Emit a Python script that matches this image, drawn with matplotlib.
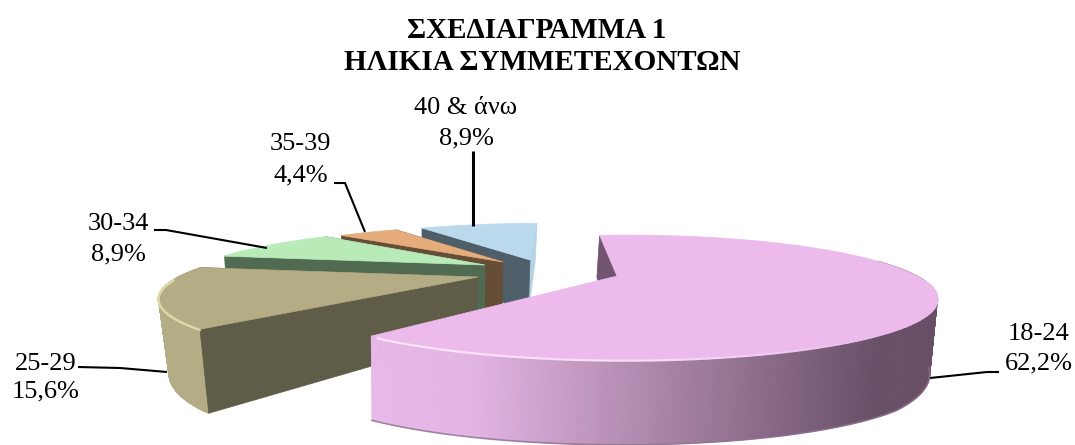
"""Exploded 3D pie, age of participants. Drawn in pixel coords so it can sit on the reference."""
import numpy as np
import matplotlib
matplotlib.use("Agg")
import matplotlib.pyplot as plt
from matplotlib.colors import to_rgb
from matplotlib.patches import Polygon

# data
GROUPS = ["18-24", "25-29", "30-34", "35-39", "40 & άνω"]
SHARES = [62.2, 15.6, 8.9, 4.4, 8.9]
SHARE_TEXT = ["62,2%", "15,6%", "8,9%", "4,4%", "8,9%"]

# look of each slice
TOP = ["#ECBBEC", "#B3AC85", "#B8EBB8", "#E5AD7B", "#BBD9EC"]
SIDE = ["#E8B8E8", "#B3AC85", "#B8EBB8", "#E5AD7B", "#BBD9EC"]
FRONT = ["#E8B8E8", "#5F5C47", "#516B52", "#664D38", "#4F5F69"]
BACK = ["#705470", "#5F5C47", "#516B52", "#664D38", "#B5D3E6"]
APEX = [(617, 276), (478, 277), (485, 265), (503, 262), (530, 260)]
SCALE = [1.0, 1.0, 0.94, 0.9, 0.9]
BIAS = [-0.5, -7.4, -7.4, -6, -5]   # exploded slices look rotated under the perspective
SKEW = [8, 0, 20, 10, 14]
SHRINK = [0.985, 0.96, 0.985, 0.985, 0.985]

# projection of the pie disc
START = 97
R, RS, K = 300, 55, 0.344
XC = 420
WALL_Y = [-1, -0.7, -0.34, 0, 1]
WALL_H = [85, 84, 75, 59, 42]

plt.rcParams['font.family'] = ['Liberation Serif', 'DejaVu Serif']

# label centres and leader lines, pixels
LABEL_XY = [(1039, 334.5, 363.5), (46, 363.5, 391.5), (118, 223.5, 254.5), (300.5, 144.5, 175.5), (466, 108.5, 138.5)]
LEADERS = [
    ([999, 987, 930], [372, 372, 378], 1.5),
    ([78, 120, 167], [367, 368, 372], 1.5),
    ([154, 166, 267], [230, 230, 248], 1.5),
    ([334, 345, 365], [183, 183, 232], 1.5),
    ([473, 473], [151, 226], 2.2),
]


def rim(t, apex, scale, skew):
    x, y = np.cos(t), np.sin(t)
    w = 1 + K * y
    return (apex[0] + scale * R * x / w + skew * y ** 2,
            apex[1] - scale * RS * y / w,
            np.interp(y, WALL_Y, WALL_H) * scale)


def mix(a, b, f):
    a, b = np.array(to_rgb(a)), np.array(to_rgb(b))
    return tuple(a + (b - a) * f)


def draw_slice(ax, i, a0, a1):
    apex, sc = APEX[i], SCALE[i]
    ts = np.radians(np.linspace(a0, a1, 500))   # a0 > a1, clockwise
    px, py, hh = rim(ts, apex, sc, SKEW[i])
    bx, by = XC + (px - XC) * SHRINK[i], py + hh
    ax_b = (XC + (apex[0] - XC) * SHRINK[i], apex[1] + 59 * sc)
    z = 10 + (5 - i if i else 9) * 10

    # radial walls; only for the pink slice the first edge is the far one
    first_wall = [apex, (px[0], py[0]), (bx[0], by[0]), ax_b]
    last_wall = [apex, (px[-1], py[-1]), (bx[-1], by[-1]), ax_b]
    back, front = (first_wall, last_wall) if i == 0 else (last_wall, first_wall)
    ax.add_patch(Polygon(back, fc=BACK[i], ec=BACK[i], lw=0.5, zorder=z))

    # outer wall strips
    for j in range(len(ts) - 1):
        if np.sin(ts[j]) > 0.3:
            continue
        if i == 0:
            f = np.interp(px[j], [375, 470, 880], [0, 0.03, 1])
            col = mix(SIDE[0], "#684F66", f)
        else:
            col = SIDE[i]
        q = [(px[j], py[j]), (px[j + 1], py[j + 1]), (bx[j + 1], by[j + 1]), (bx[j], by[j])]
        ax.add_patch(Polygon(q, fc=col, ec=col, lw=0.6, zorder=z + 1))

    if i != 0:
        ax.add_patch(Polygon(front, fc=FRONT[i], ec=FRONT[i], lw=0.5, zorder=z + 2))

    # top face
    top = [apex] + list(zip(px, py))
    ax.add_patch(Polygon(top, fc=TOP[i], ec=TOP[i], lw=0.5, zorder=z + 3))

    # soft highlight on the rim, only on the front half
    if i < 2:
        lit = np.sin(ts) < -0.05
        for j in range(0, len(ts) - 4, 4):
            if lit[j]:
                if i == 0:
                    f = np.interp(px[j], [375, 650, 880], [0.6, 0.5, 0.0])
                    col = mix(TOP[0], "#FFFFFF", f)
                else:
                    col = "#DDD7AA"
                ax.plot(px[j:j + 5], py[j:j + 5] + 0.8, color=col, lw=1.6, zorder=z + 4, solid_capstyle='round')
    # darker lip under the pink slice
    if i == 0:
        low = np.sin(ts) < -0.3
        ax.plot(bx[low], by[low], color="#8F7290", lw=1.2, zorder=z + 1, alpha=0.8)


def create_chart():
    fig = plt.figure(figsize=(10.75, 4.45), dpi=100)
    ax = fig.add_axes([0, 0, 1, 1])
    ax.set_xlim(0, 1075)
    ax.set_ylim(445, 0)
    ax.axis('off')

    a = START
    for i, share in enumerate(SHARES):
        sweep = share / sum(SHARES) * 360
        draw_slice(ax, i, a + BIAS[i], a + BIAS[i] - sweep)
        a -= sweep

    for xs, ys, lw in LEADERS:
        ax.plot(xs, ys, color='black', lw=lw, zorder=200, solid_capstyle='butt', solid_joinstyle='round')

    for g, s, (x, y1, y2) in zip(GROUPS, SHARE_TEXT, LABEL_XY):
        ax.text(x, y1, g, ha='center', va='center', fontsize=19, color='black', zorder=210)
        ax.text(x, y2, s, ha='center', va='center', fontsize=19, color='black', zorder=210)

    ax.text(537, 31, "ΣΧΕΔΙΑΓΡΑΜΜΑ 1", ha='center', va='center', fontsize=21, fontweight='bold')
    ax.text(542, 63, "ΗΛΙΚΙΑ ΣΥΜΜΕΤΕΧΟΝΤΩΝ", ha='center', va='center', fontsize=21, fontweight='bold')
    fig.savefig("out.png", dpi=100)
    plt.close(fig)


if __name__ == "__main__":
    create_chart()
